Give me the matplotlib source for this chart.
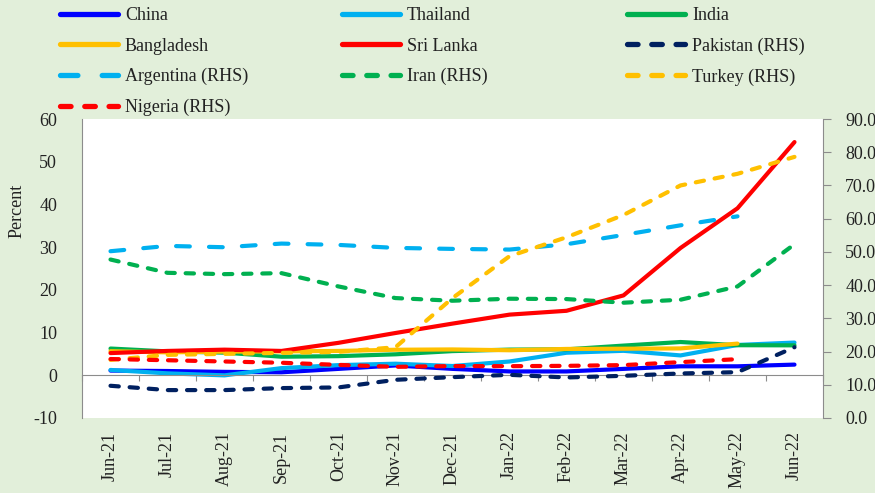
import numpy as np
import matplotlib.pyplot as plt

months = ['Jun-21', 'Jul-21', 'Aug-21', 'Sep-21', 'Oct-21', 'Nov-21', 'Dec-21',
          'Jan-22', 'Feb-22', 'Mar-22', 'Apr-22', 'May-22', 'Jun-22']
nan = np.nan

# left axis (percent)
china = [1.1, 1.0, 0.8, 0.7, 1.5, 2.3, 1.5, 0.9, 0.9, 1.5, 2.1, 2.1, 2.5]
thailand = [1.25, 0.45, -0.02, 1.68, 2.38, 2.71, 2.17, 3.23, 5.28, 5.73, 4.65, 7.10, 7.66]
india = [6.26, 5.59, 5.30, 4.35, 4.48, 4.91, 5.66, 6.01, 6.07, 6.95, 7.79, 7.04, 7.01]
bangladesh = [5.64, 5.36, 5.54, 5.59, 5.70, 5.98, 6.05, 5.86, 6.17, 6.22, 6.29, 7.42, nan]
sri_lanka = [5.2, 5.7, 6.0, 5.7, 7.6, 9.9, 12.1, 14.2, 15.1, 18.7, 29.8, 39.1, 54.6]

# right axis (RHS)
pakistan = [9.7, 8.4, 8.4, 9.0, 9.2, 11.5, 12.3, 13.0, 12.2, 12.7, 13.4, 13.8, 21.3]
argentina = [50.2, 51.8, 51.4, 52.5, 52.1, 51.2, 50.9, 50.7, 52.3, 55.1, 58.0, 60.7, nan]
iran = [47.7, 43.7, 43.3, 43.6, 39.6, 36.1, 35.3, 35.9, 35.8, 34.7, 35.6, 39.6, 52.3]
turkey = [17.5, 19.0, 19.3, 19.6, 19.9, 21.3, 36.1, 48.7, 54.4, 61.1, 70.0, 73.5, 78.6]
nigeria = [17.75, 17.38, 17.01, 16.63, 15.99, 15.40, 15.63, 15.60, 15.70, 15.92, 16.82, 17.71, nan]

plt.rcParams['font.family'] = ['Liberation Serif', 'DejaVu Serif']
plt.rcParams['font.size'] = 13
plt.rcParams['axes.unicode_minus'] = False

bg = '#E2EFDA'
grey = '#8C8C8C'
txt = '#222222'

fig = plt.figure(figsize=(8.75, 4.93), dpi=100, facecolor=bg)
ax = fig.add_axes([82 / 875, 1 - 418 / 493, 741 / 875, 299 / 493])
ax.set_facecolor('white')
ax2 = ax.twinx()

x = np.arange(len(months))
lw = 3
short = (0, (2.0, 2.6))
long_ = (0, (3.3, 4.6))

handles = []
for vals, col, name in [(china, '#0000FF', 'China'),
                        (thailand, '#00B0F0', 'Thailand'),
                        (india, '#00B050', 'India'),
                        (bangladesh, '#FFC000', 'Bangladesh'),
                        (sri_lanka, '#FF0000', 'Sri Lanka')]:
    h, = ax.plot(x, vals, color=col, lw=lw, label=name, solid_capstyle='round')
    handles.append(h)

for vals, col, name, ls in [(pakistan, '#002060', 'Pakistan (RHS)', short),
                            (argentina, '#00B0F0', 'Argentina (RHS)', long_),
                            (iran, '#00B050', 'Iran (RHS)', short),
                            (turkey, '#FFC000', 'Turkey (RHS)', short),
                            (nigeria, '#FF0000', 'Nigeria (RHS)', short)]:
    h, = ax2.plot(x, vals, color=col, lw=lw, ls=ls, label=name, dash_capstyle='round')
    handles.append(h)

ax.set_xlim(-0.5, len(months) - 0.5)
ax.set_ylim(-10, 60)
ax.set_yticks(range(-10, 61, 10))
ax2.set_ylim(0, 90)
ax2.set_yticks(range(0, 91, 10))
ax2.set_yticklabels(['%.1f' % v for v in range(0, 91, 10)])

for s in ['top', 'right']:
    ax.spines[s].set_visible(False)
for s in ['top', 'left', 'bottom']:
    ax2.spines[s].set_visible(False)
ax.spines['left'].set_color(grey)
ax.spines['bottom'].set_color(grey)
ax.spines['bottom'].set_position(('data', 0))
ax2.spines['right'].set_color(grey)

ax.set_xticks(np.arange(-0.5, len(months), 1.0))
ax.set_xticklabels([])
ax.tick_params(axis='x', direction='out', length=4, color=grey)
ax.tick_params(axis='y', length=0, pad=18, labelcolor=txt)
ax2.tick_params(axis='y', direction='out', length=6, color=grey, pad=10, labelcolor=txt)

for i, m in enumerate(months):
    ax.text(i, -0.045, m, transform=ax.get_xaxis_transform(), rotation=90,
            ha='center', va='top', color=txt)

fig.text(17 / 875, 1 - 211 / 493, 'Percent', rotation=90, ha='center', va='center', color=txt)

# legend: 3 columns laid out row-wise
col_x = [60, 342, 627]
for c in range(3):
    leg = fig.legend(handles=handles[c::3], loc='upper left',
                     bbox_to_anchor=(col_x[c] / 875, 1 - 7 / 493),
                     frameon=False, borderpad=0, borderaxespad=0,
                     handlelength=3.2, handletextpad=0.4, labelspacing=0.75,
                     labelcolor=txt)
    for ln in leg.get_lines():
        ln.set_linewidth(3.8)

fig.savefig('out.png', dpi=100, facecolor=bg)
